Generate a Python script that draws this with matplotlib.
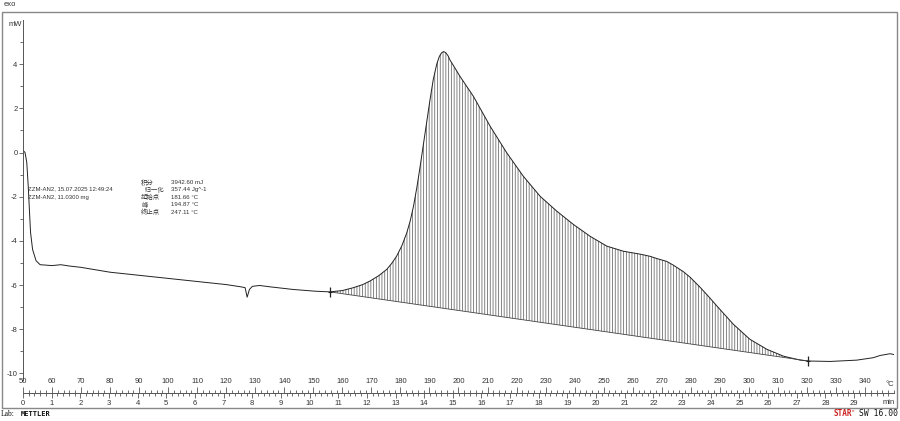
import numpy as np
import matplotlib
matplotlib.use('Agg')
import matplotlib.pyplot as plt
from matplotlib.patches import Rectangle
from matplotlib.ticker import MultipleLocator

# DSC curve: temperature (°C) vs heat flow (mW)
temp_c = [50, 50.7, 51.3, 51.8, 52.2, 52.6, 53.3, 54.5, 55.9, 58, 60, 63, 66,
          70, 80, 90, 100, 110, 120, 125, 126.5, 127.2, 128, 129, 131.5, 135,
          143, 150.7, 155.7, 160, 163.8, 167, 169.5, 172.5, 175.3, 177, 178.7,
          180.5, 182.2, 183.4, 184.5, 185.7, 186.8, 188.5, 190.2, 191.3, 192.5,
          193.4, 194.2, 194.9, 195.6, 196.4, 197.1, 198.8, 200.5, 205.1, 210.9,
          216.6, 222.3, 228.1, 233.8, 239.6, 245.3, 251.1, 256.8, 262.5, 266,
          268.3, 271.7, 274, 277.5, 279.8, 283.2, 286, 289, 294.7, 300.4, 306.2,
          311.9, 317.7, 320.5, 328, 337.2, 342.9, 345.2, 348.7, 350]
heat_flow = [0.1, 0.0, -0.45, -1.52, -2.58, -3.62, -4.39, -4.9, -5.08, -5.1,
             -5.12, -5.08, -5.14, -5.2, -5.42, -5.56, -5.7, -5.84, -5.98, -6.08,
             -6.12, -6.55, -6.2, -6.06, -6.02, -6.08, -6.2, -6.28, -6.31, -6.25,
             -6.12, -5.98, -5.82, -5.58, -5.29, -5.02, -4.69, -4.22, -3.63,
             -3.08, -2.43, -1.55, -0.62, 0.89, 2.4, 3.3, 4.0, 4.35, 4.52, 4.57,
             4.52, 4.38, 4.18, 3.82, 3.45, 2.55, 1.19, -0.01, -1.07, -1.98,
             -2.65, -3.26, -3.79, -4.24, -4.47, -4.6, -4.7, -4.8, -4.93, -5.1,
             -5.4, -5.65, -6.1, -6.5, -6.95, -7.78, -8.46, -8.91, -9.22, -9.4,
             -9.44, -9.46, -9.4, -9.29, -9.19, -9.11, -9.15]

# integration baseline end points
base_t = [155.7, 320.5]
base_v = [-6.31, -9.44]

y_major = [-10, -8, -6, -4, -2, 0, 2, 4]
y_minor = [-9, -7, -5, -3, -1, 1, 3, 5]
temp_ticks = list(range(50, 341, 10))
time_ticks = list(range(0, 30))

sample_lines = ['ZZM-AN2, 15.07.2025 12:49:24', 'ZZM-AN2, 11.0300 mg']
result_names = ['积分', '  归一化', '起始点', '峰', '终止点']
result_values = ['3942.60 mJ', '357.44 Jg^-1', '181.66 °C', '194.87 °C', '247.11 °C']

plt.rcParams['font.family'] = ['Liberation Sans', 'Noto Sans CJK SC', 'DejaVu Sans']

W, H = 900, 421
fig = plt.figure(figsize=(9, 4.21), dpi=100)


def fx(x):
    return x / W


def fy(y):
    return 1 - y / H


txt_col = '#333333'

# main plot
ax = fig.add_axes([fx(23), fy(380), 871 / W, 360 / H])
ax.set_xlim(50, 350)
ax.set_ylim(-10.3, 6.0)
for s in ['top', 'right', 'bottom']:
    ax.spines[s].set_visible(False)
ax.spines['left'].set_color('#555555')
ax.spines['left'].set_linewidth(0.7)
ax.set_xticks([])
ax.set_yticks(y_major)
ax.set_yticks(y_minor, minor=True)
ax.tick_params(axis='y', which='major', length=3, width=0.6, labelsize=5.5,
               pad=1, colors='#555555', labelcolor=txt_col)
ax.tick_params(axis='y', which='minor', length=2, width=0.6, colors='#555555')
ax.set_yticklabels([str(v) for v in y_major])

ax.plot(temp_c, heat_flow, color='#222222', lw=0.7)

i0 = temp_c.index(base_t[0])
i1 = temp_c.index(base_t[1])
pk_t = temp_c[i0:i1 + 1]
pk_v = heat_flow[i0:i1 + 1]
base = np.interp(pk_t, base_t, base_v)
plt.rcParams['hatch.linewidth'] = 0.6
plt.rcParams['hatch.color'] = '#707070'
ax.fill_between(pk_t, pk_v, base, facecolor='none', edgecolor='#707070',
                hatch='||||||', lw=0)
ax.plot(base_t, base_v, color='#444444', lw=0.6)
ax.plot(base_t, base_v, ls='none', marker='|', ms=7, mew=0.9, color='#222222')
ax.plot(base_t, base_v, ls='none', marker='_', ms=3, mew=0.8, color='#222222')

# ruler with temperature on top and time below
ax_r = fig.add_axes([fx(23), fy(393), 871 / W, 0.0001])
ax_r.set_xlim(50, 350)
ax_r.set_yticks([])
for s in ['left', 'right', 'bottom']:
    ax_r.spines[s].set_visible(False)
ax_r.spines['top'].set_color('#555555')
ax_r.spines['top'].set_linewidth(0.7)
ax_r.xaxis.tick_top()
ax_r.set_xticks(temp_ticks)
ax_r.xaxis.set_minor_locator(MultipleLocator(2))
ax_r.tick_params(axis='x', which='major', direction='out', length=4, width=0.6,
                 labelsize=5.5, pad=1.5, colors='#555555', labelcolor=txt_col)
ax_r.tick_params(axis='x', which='minor', direction='out', length=2.5,
                 width=0.6, colors='#555555')

sec = ax_r.secondary_xaxis('bottom', functions=(lambda t: (t - 50) / 9.87,
                                                lambda m: m * 9.87 + 50))
sec.set_xticks(time_ticks)
sec.xaxis.set_minor_locator(MultipleLocator(0.2))
sec.spines['bottom'].set_visible(False)
sec.tick_params(axis='x', which='major', direction='out', length=3.5, width=0.6,
                labelsize=5.5, pad=1.5, colors='#555555', labelcolor=txt_col)
sec.tick_params(axis='x', which='minor', direction='out', length=2.5,
                width=0.6, colors='#555555')

fig.text(fx(885), fy(384), '°C', fontsize=5.5, color=txt_col, va='center')
fig.text(fx(883), fy(403), 'min', fontsize=5.5, color=txt_col, va='center')

# frame
fig.add_artist(Rectangle((fx(2), fy(408)), fx(897) - fx(2), fy(12) - fy(408),
                         transform=fig.transFigure, fill=False, ec='#888888', lw=1))

fig.text(fx(4), fy(5), 'exo', fontsize=5.5, color=txt_col, va='center')
fig.text(fx(9), fy(25), 'mW', fontsize=5.5, color=txt_col, va='center')

for i, line in enumerate(sample_lines):
    fig.text(fx(28), fy(189 + 8 * i), line, fontsize=4.3, color=txt_col, va='center')

for i, (name, val) in enumerate(zip(result_names, result_values)):
    y = 182.5 + 7.4 * i
    fig.text(fx(141), fy(y), name, fontsize=4.6, color=txt_col, va='center')
    fig.text(fx(171), fy(y), val, fontsize=4.4, color=txt_col, va='center')

# footer
fig.text(fx(1), fy(414), 'Lab:', fontsize=5.5, family='Liberation Serif',
         color='#111111', va='center')
fig.text(fx(21), fy(414), 'METTLER', fontsize=5, family='DejaVu Sans Mono',
         weight='bold', color='#111111', va='center')
fig.text(fx(834), fy(414), 'STAR', fontsize=5.5, family='DejaVu Sans Mono',
         weight='bold', color='#cc2222', va='center')
fig.text(fx(852), fy(411), 'e', fontsize=3.2, family='DejaVu Sans Mono',
         color='#cc2222', va='center')
fig.text(fx(859), fy(414), 'SW 16.00', fontsize=5.8, family='DejaVu Sans Mono',
         color='#111111', va='center')

fig.savefig('out.png', dpi=100)
